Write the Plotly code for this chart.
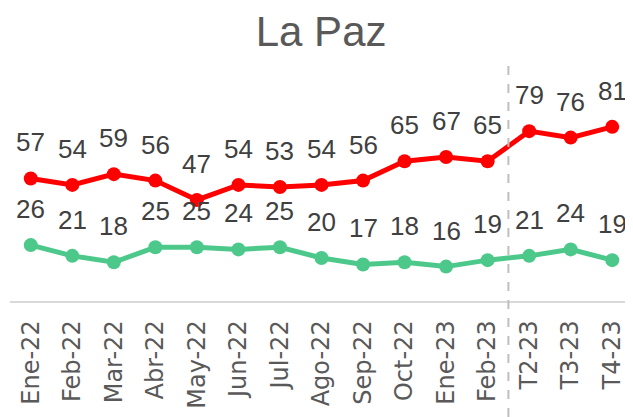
import plotly.graph_objects as go

meses = ['Ene-22', 'Feb-22', 'Mar-22', 'Abr-22', 'May-22', 'Jun-22', 'Jul-22',
         'Ago-22', 'Sep-22', 'Oct-22', 'Ene-23', 'Feb-23', 'T2-23', 'T3-23', 'T4-23']
serie_roja = [57, 54, 59, 56, 47, 54, 53, 54, 56, 65, 67, 65, 79, 76, 81]
serie_verde = [26, 21, 18, 25, 25, 24, 25, 20, 17, 18, 16, 19, 21, 24, 19]

ROJO = '#FF0000'
VERDE = '#4CC98A'
LABEL_FONT = dict(family='Liberation Sans, Arial, sans-serif', size=26, color='#404040')

fig = go.Figure()

for vals, color in [(serie_roja, ROJO), (serie_verde, VERDE)]:
    fig.add_trace(go.Scatter(
        x=meses, y=vals, mode='lines+markers',
        line=dict(color=color, width=5),
        marker=dict(color=color, size=14),
        showlegend=False, hoverinfo='skip',
    ))
    # etiquetas de datos encima de cada punto
    for m, v in zip(meses, vals):
        fig.add_annotation(x=m, y=v, text=str(v), showarrow=False,
                           yshift=36, font=LABEL_FONT)

# separador punteado entre datos mensuales y trimestrales
fig.add_shape(type='line', xref='x', yref='paper',
              x0=11.5, x1=11.5, y0=-0.54, y1=1.1,
              line=dict(color='#BFBFBF', width=2, dash='dash'))

# la pagina deja 8px de margen arriba/izquierda, se compensa aqui
fig.update_layout(
    width=625, height=409,
    margin=dict(l=2, r=0, t=78, b=115.5),
    plot_bgcolor='white', paper_bgcolor='white',
    title=dict(text='La Paz', x=0.501, xanchor='center', y=0.943, yanchor='middle',
               font=dict(family='Liberation Sans, Arial, sans-serif', size=42,
                         color='#595959')),
    xaxis=dict(type='category', range=[-0.5, 14.5], tickangle=-90,
               showline=True, linecolor='#D9D9D9', linewidth=1.5,
               showgrid=False, ticks='', ticklabelstandoff=8,
               tickfont=dict(family='DejaVu Sans, sans-serif', size=24, color='#595959')),
    yaxis=dict(range=[0, 100], visible=False, showgrid=False, zeroline=False),
)

fig.write_html('out.html')
